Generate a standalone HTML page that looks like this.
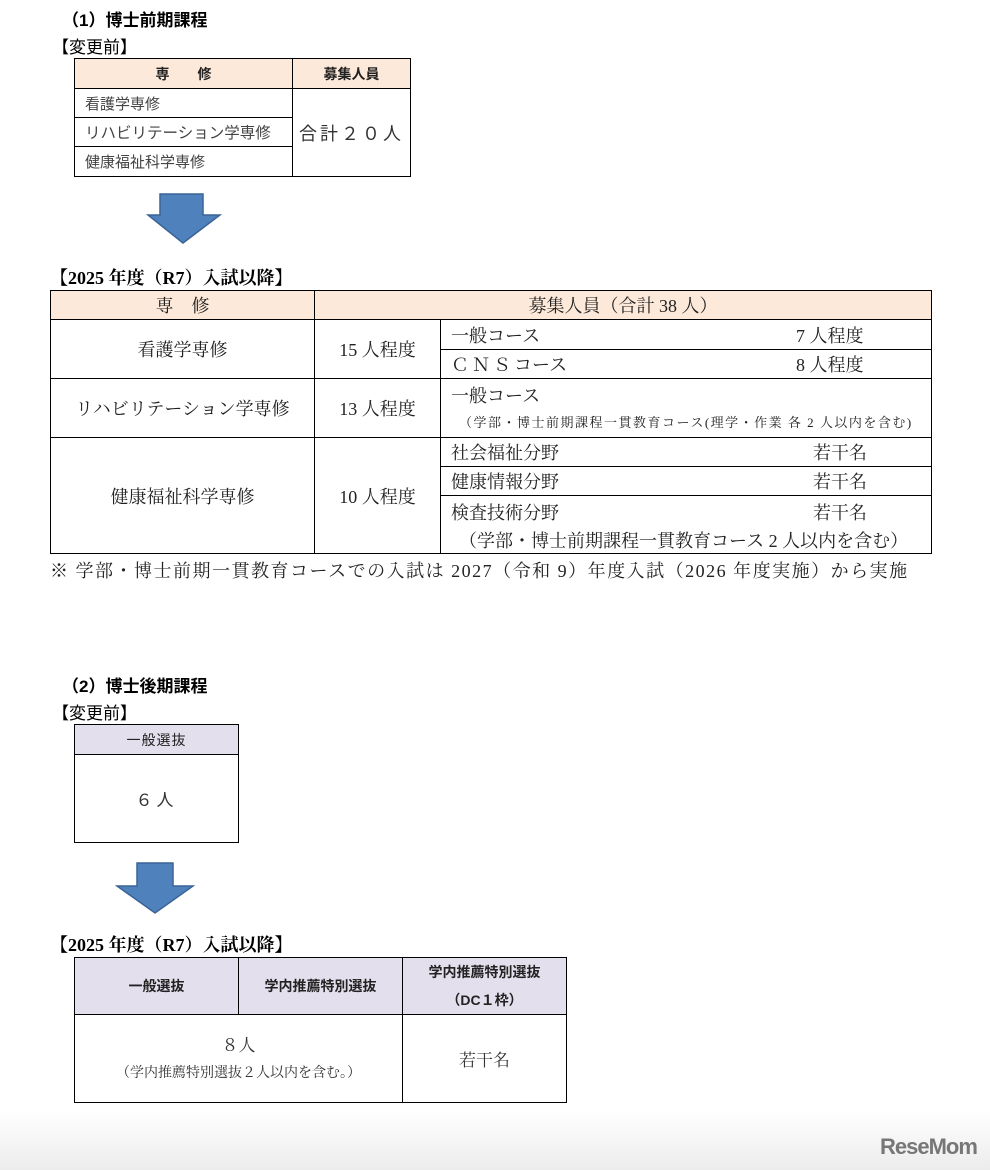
<!DOCTYPE html>
<html><head><meta charset="utf-8"><style>
body{margin:0;width:990px;height:1170px;position:relative;background:#fff;overflow:hidden;font-family:"Liberation Sans","Noto Sans CJK JP",sans-serif;color:#222}
.a{position:absolute;white-space:nowrap}
.c{position:absolute;box-sizing:border-box;border:1px solid #000;display:flex;align-items:center;justify-content:center;white-space:nowrap}
.s{font-family:"Liberation Serif","Noto Serif CJK JP",serif}
.pe{background:#fde9d9}
.lv{background:#e4dfec}
.b{font-weight:bold}
</style></head><body>
<div class="a b" style="left:62px;top:6px;font-size:17px;color:#000">（1）博士前期課程</div>
<div class="a" style="left:52px;top:33px;font-size:17px;color:#000">【変更前】</div>
<div class="c pe b" style="left:74px;top:58px;width:219px;height:31px;font-size:14px">専　　修</div>
<div class="c pe b" style="left:292px;top:58px;width:119px;height:31px;font-size:14px">募集人員</div>
<div class="c" style="left:74px;top:88px;width:219px;height:30px;font-size:15px;justify-content:flex-start;padding-left:10px;color:#444">看護学専修</div>
<div class="c" style="left:74px;top:117px;width:219px;height:30px;font-size:15.5px;justify-content:flex-start;padding-left:10px;color:#444">リハビリテーション学専修</div>
<div class="c" style="left:74px;top:146px;width:219px;height:31px;font-size:15px;justify-content:flex-start;padding-left:10px;color:#444">健康福祉科学専修</div>
<div class="c" style="left:292px;top:88px;width:119px;height:89px;font-size:18px;letter-spacing:3px;color:#333">合計２０人</div>
<svg class="a" style="left:146px;top:193px" width="76" height="52"><polygon points="14,1 57,1 57,22 74,22 37,50 2,22 14,22" fill="#4f81bd" stroke="#3a6496" stroke-width="1.5"/></svg>

<div class="a s b" style="left:50px;top:264px;font-size:18px;color:#000">【2025 年度（R7）入試以降】</div>
<div class="s" style="position:absolute;left:0;top:0;font-size:18px;color:#222">
<div class="c pe" style="left:50px;top:290px;width:265px;height:30px">専　修</div>
<div class="c pe" style="left:314px;top:290px;width:618px;height:30px">募集人員（合計 38 人）</div>
<div class="c" style="left:50px;top:319px;width:265px;height:60px">看護学専修</div>
<div class="c" style="left:314px;top:319px;width:127px;height:60px">15 人程度</div>
<div class="c" style="left:440px;top:319px;width:492px;height:31px;justify-content:flex-start;padding-left:10px">一般コース<span style="position:absolute;left:355px">7 人程度</span></div>
<div class="c" style="left:440px;top:349px;width:492px;height:30px;justify-content:flex-start;padding-left:10px"><span style="letter-spacing:3px">ＣＮＳ</span>コース<span style="position:absolute;left:355px">8 人程度</span></div>
<div class="c" style="left:50px;top:378px;width:265px;height:60px">リハビリテーション学専修</div>
<div class="c" style="left:314px;top:378px;width:127px;height:60px">13 人程度</div>
<div class="c" style="left:440px;top:378px;width:492px;height:60px;display:block">
<div class="a" style="left:10px;top:3px">一般コース</div>
<div class="a" style="left:18px;top:33px;font-size:13px;letter-spacing:1.5px">（学部・博士前期課程一貫教育コース(理学・作業 各 2 人以内を含む)</div></div>
<div class="c" style="left:50px;top:437px;width:265px;height:117px">健康福祉科学専修</div>
<div class="c" style="left:314px;top:437px;width:127px;height:117px">10 人程度</div>
<div class="c" style="left:440px;top:437px;width:492px;height:30px;justify-content:flex-start;padding-left:10px">社会福祉分野<span style="position:absolute;left:372px">若干名</span></div>
<div class="c" style="left:440px;top:466px;width:492px;height:30px;justify-content:flex-start;padding-left:10px">健康情報分野<span style="position:absolute;left:372px">若干名</span></div>
<div class="c" style="left:440px;top:495px;width:492px;height:59px;display:block">
<div class="a" style="left:10px;top:3px">検査技術分野</div><div class="a" style="left:372px;top:3px">若干名</div>
<div class="a" style="left:18px;top:31px">（学部・博士前期課程一貫教育コース 2 人以内を含む）</div></div>
<div class="a" style="left:50px;top:557px;letter-spacing:1.5px">※ 学部・博士前期一貫教育コースでの入試は 2027（令和 9）年度入試（2026 年度実施）から実施</div>
</div>

<div class="a b" style="left:62px;top:672px;font-size:17px;color:#000">（2）博士後期課程</div>
<div class="a" style="left:52px;top:699px;font-size:17px;color:#000">【変更前】</div>
<div class="c lv" style="left:74px;top:724px;width:165px;height:31px;font-size:14px;letter-spacing:1px">一般選抜</div>
<div class="c" style="left:74px;top:754px;width:165px;height:89px;font-size:17px;letter-spacing:4px;color:#333">６人</div>
<svg class="a" style="left:115px;top:862px" width="80" height="53"><polygon points="22,1 58,1 58,24 78,24 40,51 2,24 22,24" fill="#4f81bd" stroke="#3a6496" stroke-width="1.5"/></svg>

<div class="a s b" style="left:50px;top:931px;font-size:18px;color:#000">【2025 年度（R7）入試以降】</div>
<div class="c lv b" style="left:74px;top:957px;width:165px;height:58px;font-size:14px">一般選抜</div>
<div class="c lv b" style="left:238px;top:957px;width:165px;height:58px;font-size:14px">学内推薦特別選抜</div>
<div class="c lv b" style="left:402px;top:957px;width:165px;height:58px;font-size:14px;flex-direction:column;line-height:28px">学内推薦特別選抜<span>（DC１枠）</span></div>
<div class="c s" style="left:74px;top:1014px;width:329px;height:89px;flex-direction:column;color:#333"><span style="font-size:17px;line-height:30px">８人</span><span style="font-size:14px;line-height:26px">（学内推薦特別選抜２人以内を含む。）</span></div>
<div class="c s" style="left:402px;top:1014px;width:165px;height:89px;font-size:17px;color:#333">若干名</div>

<div class="a" style="left:0;top:1110px;width:990px;height:60px;background:linear-gradient(#fff,#ececec)"></div>
<div class="a b" style="left:880px;top:1134px;font-size:22px;color:#777;letter-spacing:-1px;font-family:'Liberation Sans',sans-serif">ReseMom</div>
</body></html>
